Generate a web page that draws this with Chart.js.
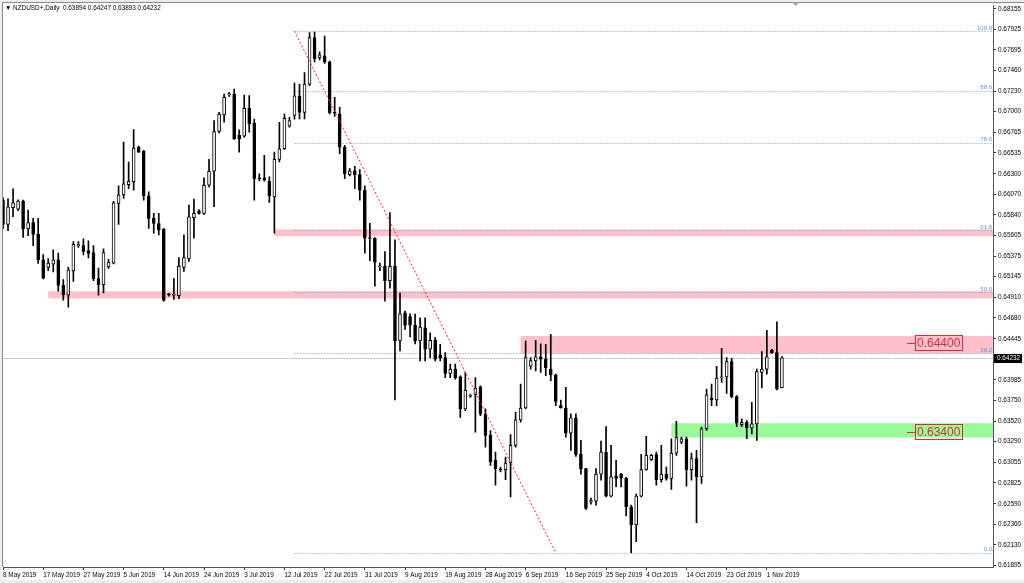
<!DOCTYPE html>
<html>
<head>
<meta charset="utf-8">
<title>NZDUSD+,Daily</title>
<script src="https://cdn.jsdelivr.net/npm/chart.js@4.4.1/dist/chart.umd.min.js"></script>
<style>
  html, body { margin: 0; padding: 0; background: #fff; }
  #wrap { width: 1024px; height: 583px; }
</style>
</head>
<body>
<div id="wrap"><canvas id="chart" width="1024" height="583"></canvas></div>
<script>
// NZDUSD+ daily candles, 8 May 2019 .. 5 Nov 2019
const symbol = 'NZDUSD+,Daily';

const opens = [
  0.66003, 0.65732, 0.65919, 0.65904, 0.65994, 0.65681, 0.65751, 0.65620, 0.65334, 0.65248,
  0.65285, 0.65334, 0.65047, 0.64935, 0.65209, 0.65494, 0.65494, 0.65438, 0.65416, 0.65122,
  0.65053, 0.65254, 0.65296, 0.65967, 0.66064, 0.66179, 0.66210, 0.66598, 0.66553, 0.66053,
  0.65799, 0.65740, 0.65681, 0.64947, 0.64935, 0.64930, 0.65248, 0.65345, 0.65807, 0.65882,
  0.65855, 0.66172, 0.66329, 0.66776, 0.66962, 0.67188, 0.67197, 0.66732, 0.66724, 0.67037,
  0.66872, 0.66254, 0.66254, 0.66217, 0.66042, 0.66463, 0.66582, 0.66835, 0.66958, 0.67171,
  0.66992, 0.67309, 0.67831, 0.67607, 0.67626, 0.67559, 0.66987, 0.66973, 0.66601, 0.66291,
  0.66333, 0.66291, 0.66116, 0.65579, 0.65576, 0.65254, 0.65259, 0.65100, 0.65259, 0.64421,
  0.64737, 0.64695, 0.64600, 0.64421, 0.64570, 0.64328, 0.64429, 0.64264, 0.64234, 0.64055,
  0.64104, 0.64018, 0.63657, 0.63800, 0.63817, 0.63906, 0.63601, 0.63359, 0.63079, 0.62979,
  0.62975, 0.63049, 0.63247, 0.63534, 0.63668, 0.64137, 0.64197, 0.64242, 0.64216, 0.64104,
  0.64041, 0.63694, 0.63668, 0.63384, 0.63556, 0.63147, 0.62986, 0.62615, 0.62621, 0.62925,
  0.63172, 0.62677, 0.62900, 0.62925, 0.62881, 0.62557, 0.62352, 0.62677, 0.62975, 0.63087,
  0.63143, 0.62863, 0.62925, 0.62875, 0.63161, 0.63284, 0.63322, 0.62975, 0.63098, 0.62893,
  0.63434, 0.63780, 0.63758, 0.64007, 0.64018, 0.64190, 0.63795, 0.63481, 0.63507, 0.63444,
  0.63489, 0.64067, 0.64104, 0.64317, 0.64290, 0.63894
];
const highs = [
  0.66031, 0.66019, 0.66131, 0.66009, 0.66005, 0.65893, 0.65799, 0.65799, 0.65393, 0.65347,
  0.65446, 0.65408, 0.65110, 0.65248, 0.65539, 0.65539, 0.65569, 0.65547, 0.65494, 0.65240,
  0.65457, 0.65338, 0.65992, 0.66165, 0.66657, 0.66433, 0.66799, 0.66612, 0.66564, 0.66098,
  0.65855, 0.65855, 0.65684, 0.64958, 0.65122, 0.65360, 0.65614, 0.65949, 0.66016, 0.65897,
  0.66254, 0.66463, 0.66899, 0.66992, 0.67197, 0.67216, 0.67253, 0.66794, 0.67186, 0.67179,
  0.66917, 0.66299, 0.66508, 0.66266, 0.66545, 0.66880, 0.66973, 0.66936, 0.67322, 0.67309,
  0.67439, 0.67887, 0.67894, 0.67671, 0.67850, 0.67568, 0.67160, 0.67048, 0.66620, 0.66358,
  0.66385, 0.66347, 0.66165, 0.65743, 0.65584, 0.65296, 0.65427, 0.65866, 0.65558, 0.64961,
  0.64756, 0.64726, 0.64723, 0.64681, 0.64681, 0.64513, 0.64458, 0.64384, 0.64290, 0.64160,
  0.64160, 0.64030, 0.64067, 0.63824, 0.64010, 0.63917, 0.63657, 0.63415, 0.63172, 0.63004,
  0.63116, 0.63370, 0.63619, 0.63937, 0.64421, 0.64234, 0.64429, 0.64390, 0.64384, 0.64495,
  0.64048, 0.63758, 0.63899, 0.63601, 0.63601, 0.63303, 0.62990, 0.62654, 0.62986, 0.63295,
  0.63459, 0.63247, 0.63079, 0.62932, 0.62887, 0.62576, 0.62699, 0.63147, 0.63348, 0.63147,
  0.63172, 0.63247, 0.63004, 0.63322, 0.63519, 0.63340, 0.63340, 0.63161, 0.63191, 0.63452,
  0.63881, 0.63937, 0.64137, 0.64339, 0.64234, 0.64227, 0.63806, 0.63545, 0.63526, 0.63731,
  0.64104, 0.64301, 0.64541, 0.64328, 0.64637, 0.64247
];
const lows = [
  0.65684, 0.65662, 0.65818, 0.65885, 0.65584, 0.65606, 0.65494, 0.65293, 0.65120, 0.65211,
  0.65198, 0.64980, 0.64879, 0.64801, 0.65092, 0.65472, 0.65390, 0.65354, 0.65100, 0.64935,
  0.64961, 0.65237, 0.65287, 0.65732, 0.66023, 0.66134, 0.66116, 0.66540, 0.66005, 0.65687,
  0.65632, 0.65614, 0.64868, 0.64924, 0.64887, 0.64898, 0.65203, 0.65315, 0.65576, 0.65846,
  0.65844, 0.66153, 0.65930, 0.66761, 0.66880, 0.67171, 0.66686, 0.66545, 0.66712, 0.66768,
  0.66005, 0.66221, 0.66217, 0.65978, 0.65632, 0.66433, 0.66576, 0.66824, 0.66914, 0.66917,
  0.66917, 0.67291, 0.67559, 0.67581, 0.67543, 0.66975, 0.66947, 0.66526, 0.66247, 0.66277,
  0.66134, 0.66005, 0.65408, 0.65323, 0.65036, 0.65211, 0.64868, 0.65016, 0.63758, 0.64309,
  0.64552, 0.64466, 0.64387, 0.64197, 0.64197, 0.64234, 0.64197, 0.64197, 0.64010, 0.64010,
  0.63992, 0.63563, 0.63638, 0.63787, 0.63396, 0.63582, 0.63228, 0.63023, 0.62799, 0.62948,
  0.62863, 0.62669, 0.63228, 0.63507, 0.63657, 0.64104, 0.64085, 0.64067, 0.64030, 0.63974,
  0.63694, 0.63666, 0.63339, 0.63191, 0.63124, 0.62925, 0.62528, 0.62587, 0.62576, 0.62856,
  0.62669, 0.62669, 0.62781, 0.62781, 0.62453, 0.62040, 0.62165, 0.62669, 0.62968, 0.63079,
  0.62799, 0.62833, 0.62856, 0.62753, 0.63135, 0.63266, 0.62788, 0.62856, 0.62378, 0.62819,
  0.63415, 0.63694, 0.63694, 0.63955, 0.63832, 0.63780, 0.63459, 0.63459, 0.63322, 0.63377,
  0.63303, 0.63892, 0.64048, 0.64281, 0.63870, 0.63893
];
const closes = [
  0.65732, 0.65930, 0.65975, 0.65994, 0.65681, 0.65751, 0.65620, 0.65334, 0.65128, 0.65296,
  0.65334, 0.65047, 0.64941, 0.65220, 0.65509, 0.65505, 0.65427, 0.65405, 0.65122, 0.65053,
  0.65416, 0.65307, 0.65975, 0.66064, 0.66187, 0.66217, 0.66590, 0.66545, 0.66053, 0.65799,
  0.65743, 0.65670, 0.64876, 0.64941, 0.64941, 0.65259, 0.65360, 0.65818, 0.65855, 0.65855,
  0.66172, 0.66329, 0.66776, 0.66973, 0.67160, 0.67199, 0.66693, 0.66693, 0.67037, 0.66861,
  0.66247, 0.66243, 0.66228, 0.66053, 0.66463, 0.66582, 0.66925, 0.66899, 0.67177, 0.66992,
  0.67309, 0.67831, 0.67596, 0.67637, 0.67559, 0.66984, 0.66981, 0.66601, 0.66302, 0.66333,
  0.66291, 0.66116, 0.65576, 0.65573, 0.65307, 0.65265, 0.65100, 0.65259, 0.64421, 0.64726,
  0.64600, 0.64600, 0.64421, 0.64577, 0.64328, 0.64429, 0.64216, 0.64234, 0.64055, 0.64104,
  0.64010, 0.63657, 0.63869, 0.63811, 0.63892, 0.63601, 0.63359, 0.63060, 0.62986, 0.62973,
  0.63049, 0.63247, 0.63534, 0.63668, 0.64234, 0.64201, 0.64242, 0.64216, 0.64122, 0.64041,
  0.63742, 0.63668, 0.63384, 0.63556, 0.63147, 0.62986, 0.62539, 0.62626, 0.62925, 0.63172,
  0.62677, 0.62893, 0.62875, 0.62881, 0.62557, 0.62352, 0.62677, 0.62975, 0.63135, 0.63135,
  0.62863, 0.62925, 0.62875, 0.63161, 0.63334, 0.63322, 0.62975, 0.63098, 0.62893, 0.63434,
  0.63817, 0.63758, 0.64003, 0.64013, 0.64190, 0.63795, 0.63496, 0.63507, 0.63444, 0.63489,
  0.64078, 0.64104, 0.64242, 0.64290, 0.63881, 0.64232
];

// date labels under the chart, one every 8 bars
const tickLabels = [
  '8 May 2019', '17 May 2019', '27 May 2019', '5 Jun 2019', '14 Jun 2019', '24 Jun 2019',
  '3 Jul 2019', '12 Jul 2019', '22 Jul 2019', '31 Jul 2019', '9 Aug 2019', '19 Aug 2019',
  '28 Aug 2019', '6 Sep 2019', '16 Sep 2019', '25 Sep 2019', '4 Oct 2019', '14 Oct 2019',
  '23 Oct 2019', '1 Nov 2019'
];
const priceTicks = [
  0.68155, 0.67925, 0.67695, 0.67460, 0.67230, 0.67000, 0.66765, 0.66535, 0.66300, 0.66070,
  0.65840, 0.65605, 0.65375, 0.65145, 0.64910, 0.64680, 0.64445, 0.64215, 0.63985, 0.63750,
  0.63520, 0.63290, 0.63055, 0.62825, 0.62590, 0.62360, 0.62130, 0.61895
];

// fibonacci retracement drawn from the July high to the October low
const fibLevels = [100.0, 88.6, 78.6, 61.8, 50.0, 38.2, 0.0];
const fibHigh = 0.67905;
const fibLow = 0.62040;
const fibFromBar = 58;
const fibToBar = 110;

// support / resistance zones
const zoneLow = [0.65600, 0.64900, 0.64280, 0.63336];
const zoneHigh = [0.65675, 0.64980, 0.64477, 0.63496];
const zoneFromBar = [54, 9, 103, 133];
const zoneKind = ['res', 'res', 'res', 'sup'];

const levelMarks = [0.64400, 0.63400];
const bidPrice = 0.64232;

const totalBars = 198; // includes the empty space to the right of the last bar

const font = '"Liberation Sans", Arial, sans-serif';
const barIdx = Array.from({ length: totalBars }, (_, i) => i);

const bodyColors = opens.map((o, i) => closes[i] > o + 0.00002 ? '#ffffff' : '#000000');

// backdrop, frame, zones, fib and labels
const framePlugin = {
  id: 'frame',
  beforeDraw(chart) {
    const c = chart.ctx;
    const a = chart.chartArea;
    c.save();
    c.fillStyle = '#ffffff';
    c.fillRect(0, 0, chart.width, chart.height);
    c.fillStyle = '#ededed';
    c.fillRect(0, 0, chart.width, 2);
    c.fillRect(0, 0, 2, chart.height);
    c.fillRect(0, chart.height - 3, chart.width, 3);
    c.strokeStyle = '#8c8c8c';
    c.lineWidth = 1;
    c.beginPath();
    c.moveTo(2.5, 2);
    c.lineTo(2.5, a.bottom);
    c.moveTo(2, 2.5);
    c.lineTo(chart.width, 2.5);
    c.stroke();
    // shift marker
    c.fillStyle = '#a0a0a0';
    c.beginPath();
    c.moveTo(792, 2);
    c.lineTo(799, 2);
    c.lineTo(795.5, 6);
    c.closePath();
    c.fill();
    c.restore();
  },
  beforeDatasetsDraw(chart) {
    const c = chart.ctx;
    const a = chart.chartArea;
    const x = chart.scales.x;
    const y = chart.scales.y;
    c.save();
    c.beginPath();
    c.rect(a.left, a.top, a.right - a.left, a.bottom - a.top);
    c.clip();
    // zones
    zoneLow.forEach((lo, i) => {
      const y0 = y.getPixelForValue(zoneHigh[i]);
      const y1 = y.getPixelForValue(lo);
      const x0 = x.getPixelForValue(zoneFromBar[i]);
      c.fillStyle = zoneKind[i] === 'sup' ? '#98fb98' : '#ffc0cb';
      c.fillRect(x0, y0, a.right - x0, y1 - y0);
    });
    // fib level rays
    c.strokeStyle = '#7596c8';
    c.setLineDash([1, 2]);
    const fx = x.getPixelForValue(fibFromBar);
    fibLevels.forEach(lv => {
      const py = Math.round(y.getPixelForValue(fibLow + (fibHigh - fibLow) * lv / 100)) + 0.5;
      c.beginPath();
      c.moveTo(fx, py);
      c.lineTo(a.right, py);
      c.stroke();
    });
    c.setLineDash([]);
    // bid line
    const by = Math.round(y.getPixelForValue(bidPrice)) + 0.5;
    c.strokeStyle = '#c8c8c8';
    c.beginPath();
    c.moveTo(a.left, by);
    c.lineTo(a.right, by);
    c.stroke();
    c.restore();
  },
  afterDatasetsDraw(chart) {
    const c = chart.ctx;
    const x = chart.scales.x;
    const y = chart.scales.y;
    // fib trend line
    c.save();
    c.strokeStyle = '#ff2020';
    c.lineWidth = 1;
    c.setLineDash([2, 2]);
    c.beginPath();
    c.moveTo(x.getPixelForValue(fibFromBar), y.getPixelForValue(fibHigh));
    c.lineTo(x.getPixelForValue(fibToBar), y.getPixelForValue(fibLow));
    c.stroke();
    c.restore();
  },
  afterDraw(chart) {
    const c = chart.ctx;
    const a = chart.chartArea;
    const y = chart.scales.y;
    c.save();
    // title
    c.fillStyle = '#000';
    c.font = '6.4px ' + font;
    c.textBaseline = 'middle';
    c.textAlign = 'left';
    c.fillText('\u25BC ' + symbol + '  ' + opens[opens.length - 1].toFixed(5) + ' ' +
      highs[highs.length - 1].toFixed(5) + ' ' + lows[lows.length - 1].toFixed(5) + ' ' +
      closes[closes.length - 1].toFixed(5), 5, 8);
    // fib labels
    c.fillStyle = '#6f93c6';
    c.font = '6px ' + font;
    c.textAlign = 'right';
    c.textBaseline = 'bottom';
    fibLevels.forEach(lv => {
      const py = y.getPixelForValue(fibLow + (fibHigh - fibLow) * lv / 100);
      c.fillText(lv.toFixed(1), a.right - 1, py);
    });
    // level marks
    c.font = '12px ' + font;
    c.textAlign = 'left';
    c.textBaseline = 'middle';
    c.strokeStyle = '#e0263c';
    c.fillStyle = '#e0263c';
    c.lineWidth = 1;
    levelMarks.forEach(v => {
      const py = Math.round(y.getPixelForValue(v));
      const txt = v.toFixed(5);
      const w = Math.round(c.measureText(txt).width) + 4;
      const x1 = Math.round(a.right) - 31;
      const x0 = x1 - w;
      c.strokeRect(x0 + 0.5, py - 7.5, w, 15);
      c.fillText(txt, x0 + 2, py + 0.5);
      c.beginPath();
      c.moveTo(x0 - 8, py + 0.5);
      c.lineTo(x0, py + 0.5);
      c.stroke();
    });
    // bid price tag on the axis
    const by = Math.round(y.getPixelForValue(bidPrice));
    c.fillStyle = '#000';
    c.fillRect(a.right + 1, by - 4, 28, 9);
    c.fillStyle = '#fff';
    c.font = '6.4px ' + font;
    c.fillText(bidPrice.toFixed(5), a.right + 4, by + 0.5);
    c.restore();
  }
};

new Chart(document.getElementById('chart').getContext('2d'), {
  type: 'bar',
  data: {
    labels: barIdx,
    datasets: [
      {
        label: 'body',
        data: opens.map((o, i) => [o, closes[i]]),
        backgroundColor: bodyColors,
        borderColor: '#000',
        borderWidth: 1,
        borderSkipped: false,
        barThickness: 3,
        minBarLength: 1,
        grouped: false,
        order: 0
      },
      {
        label: 'wick',
        data: lows.map((l, i) => [l, highs[i]]),
        backgroundColor: '#000',
        borderWidth: 0,
        barThickness: 1,
        grouped: false,
        order: 1
      }
    ]
  },
  options: {
    responsive: false,
    animation: false,
    devicePixelRatio: 1,
    layout: { padding: { left: 3, top: 3, right: 0, bottom: 0 } },
    plugins: {
      legend: { display: false },
      tooltip: { enabled: false }
    },
    scales: {
      x: {
        offset: false,
        grid: { offset: false, drawOnChartArea: false, tickLength: 3, color: '#333' },
        border: { color: '#555' },
        ticks: {
          autoSkip: false,
          maxRotation: 0,
          align: 'start',
          padding: 1,
          color: '#000',
          font: { family: font, size: 6.4 },
          callback: (v, i) => (i % 8 === 0 && tickLabels[i / 8]) ? tickLabels[i / 8] : null
        },
        afterFit: s => { s.height = 16; }
      },
      y: {
        position: 'right',
        min: 0.61880,
        max: 0.68189,
        grid: { drawOnChartArea: false, tickLength: 3, color: '#333' },
        border: { color: '#555' },
        ticks: {
          padding: 2,
          color: '#000',
          font: { family: font, size: 6.4 },
          callback: v => v.toFixed(5)
        },
        afterBuildTicks: s => { s.ticks = priceTicks.map(v => ({ value: v })); },
        afterFit: s => { s.width = 31; }
      }
    }
  },
  plugins: [framePlugin]
});
</script>
</body>
</html>
